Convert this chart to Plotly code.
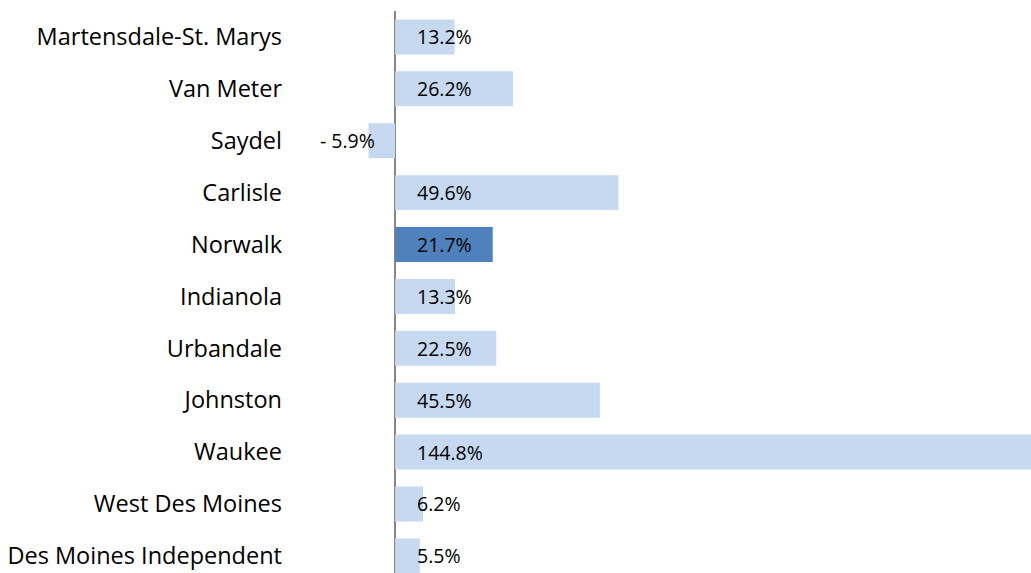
import plotly.graph_objects as go

districts = ["Martensdale-St. Marys", "Van Meter", "Saydel", "Carlisle", "Norwalk",
             "Indianola", "Urbandale", "Johnston", "Waukee", "West Des Moines",
             "Des Moines Independent"]
growth = [13.2, 26.2, -5.9, 49.6, 21.7, 13.3, 22.5, 45.5, 144.8, 6.2, 5.5]
highlight = "Norwalk"

light = "#C6D9F1"
dark = "#4F81BD"
colors = [dark if d == highlight else light for d in districts]
FONT = "Open Sans"

def fmt(v):
    return ("- %.1f%%" % abs(v)) if v < 0 else ("%.1f%%" % v)

fig = go.Figure()
fig.add_trace(go.Bar(
    x=growth, y=districts, orientation="h",
    marker=dict(color=colors, line=dict(width=0)),
    hoverinfo="skip", showlegend=False,
))

annotations = []
for d, v in zip(districts, growth):
    if v >= 0:
        annotations.append(dict(x=0, y=d, text=fmt(v), xref="x", yref="y",
                                xanchor="left", yanchor="middle", xshift=20,
                                showarrow=False,
                                font=dict(family=FONT, size=19.5, color="#000000")))
    else:
        annotations.append(dict(x=v, y=d, text=fmt(v), xref="x", yref="y",
                                xanchor="right", yanchor="middle", xshift=8,
                                showarrow=False,
                                font=dict(family=FONT, size=19.5, color="#000000")))

fig.update_layout(
    width=1031, height=573,
    margin=dict(l=292, r=0, t=11, b=0),
    paper_bgcolor="white", plot_bgcolor="white",
    bargap=0.326,
    annotations=annotations,
    xaxis=dict(range=[-22.9, 141.3], showgrid=False, showticklabels=False,
               zeroline=True, zerolinecolor="#868686", zerolinewidth=2,
               showline=False, ticks=""),
    yaxis=dict(categoryorder="array", categoryarray=districts,
               range=[10.33, -0.5], showgrid=False, zeroline=False,
               ticks="", ticklabelstandoff=9,
               tickfont=dict(family=FONT, size=23.5, color="#000000")),
)

fig.write_html("out.html", config={"displayModeBar": False},
               post_script="document.body.style.margin='0';document.body.style.overflow='hidden';")
